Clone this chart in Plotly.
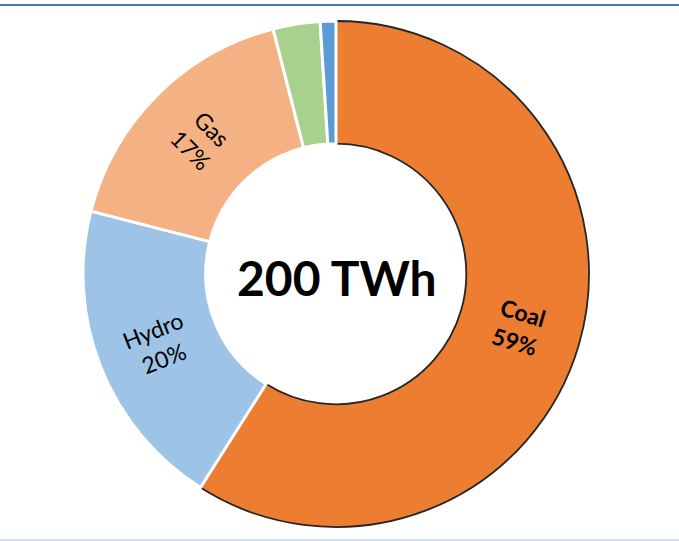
import math
import plotly.graph_objects as go

labels = ["Coal", "Hydro", "Gas", "Wind", "Solar"]
values = [59, 20, 17, 3, 1]
colors = ["#ED7D31", "#9DC3E6", "#F4B183", "#A9D18E", "#5B9BD5"]
show_label = [True, True, True, False, False]
bold_label = [True, False, False, False, False]
center_text = "200 TWh"

W, H = 679, 541
cx, cy, r = 336, 274, 253
hole = 0.515
FONT = "Lato, Open Sans, sans-serif"

fig = go.Figure(go.Pie(
    labels=labels, values=values, sort=False, direction="clockwise", rotation=0,
    hole=hole,
    marker=dict(colors=colors,
                line=dict(color=["#262626", "white", "white", "white", "white"],
                          width=[1.8, 3, 3, 3, 3])),
    textinfo="none",
    domain=dict(x=[(cx - r) / W, (cx + r) / W], y=[(H - cy - r) / H, (H - cy + r) / H]),
    showlegend=False, hoverinfo="label+percent",
))

# slice labels, placed at each slice's mid-angle, oriented radially
total = sum(values)
cum = 0.0
r_lab = r * (1 + hole) / 2 - 1
for lab, v, show, bold in zip(labels, values, show_label, bold_label):
    mid = (cum + v / 2) / total * 360.0
    cum += v
    if not show:
        continue
    th = math.radians(mid)
    px = cx + r_lab * math.sin(th)
    py = cy - r_lab * math.cos(th)
    ang = mid - 90 if mid < 180 else mid - 270
    pct = f"{round(v / total * 100)}%"
    txt = f"{lab}<br>{pct}"
    if bold:
        txt = f"<b>{txt}</b>"
    fig.add_annotation(x=px / W, y=(H - py) / H, xref="paper", yref="paper",
                       xanchor="center", yanchor="middle",
                       text=txt, showarrow=False, textangle=ang,
                       font=dict(family=FONT, size=23, color="#000000"))

fig.add_annotation(x=(cx + 1) / W, y=(H - cy - 3) / H, xref="paper", yref="paper",
                   xanchor="center", yanchor="middle",
                   text="<b>" + center_text + "</b>", showarrow=False,
                   font=dict(family=FONT, size=48, color="#000000"))

fig.add_shape(type="line", xref="paper", yref="paper", x0=0, x1=1,
              y0=(H - 5) / H, y1=(H - 5) / H, line=dict(color="#4472C4", width=2))
fig.add_shape(type="line", xref="paper", yref="paper", x0=0, x1=1,
              y0=1 / H, y1=1 / H, line=dict(color="#D6DEEF", width=2))

fig.update_layout(width=W, height=H, margin=dict(l=0, r=0, t=0, b=0),
                  paper_bgcolor="white", plot_bgcolor="white")

fig.write_html("out.html")
